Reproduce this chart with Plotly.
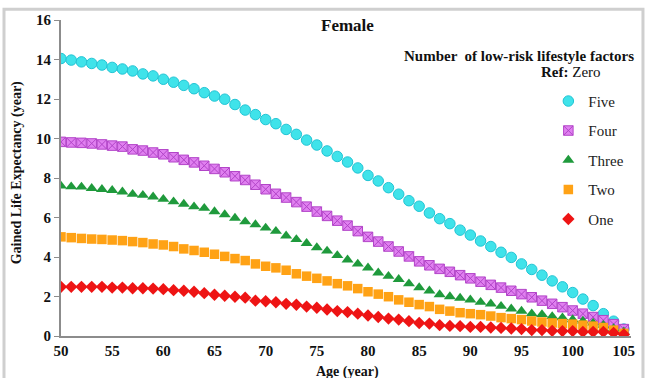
import plotly.graph_objects as go

ages = list(range(50, 106))

five = [14.05, 13.97, 13.88, 13.80, 13.72, 13.60, 13.52, 13.42, 13.27, 13.17,
        13.00, 12.85, 12.69, 12.52, 12.32, 12.15, 11.99, 11.72, 11.44, 11.21,
        10.96, 10.75, 10.46, 10.21, 9.92, 9.67, 9.37, 9.09, 8.81, 8.51,
        8.13, 7.85, 7.51, 7.18, 6.85, 6.57, 6.23, 5.94, 5.69, 5.36,
        5.11, 4.81, 4.53, 4.24, 3.98, 3.65, 3.37, 3.08, 2.79, 2.49,
        2.20, 1.87, 1.54, 1.13, 0.75, 0.35]
four = [9.83, 9.80, 9.78, 9.75, 9.70, 9.64, 9.59, 9.45, 9.39, 9.29,
        9.20, 9.05, 8.92, 8.79, 8.62, 8.46, 8.29, 8.09, 7.90, 7.66,
        7.43, 7.20, 7.01, 6.78, 6.55, 6.30, 6.08, 5.84, 5.59, 5.31,
        5.02, 4.78, 4.53, 4.28, 4.03, 3.78, 3.58, 3.40, 3.25, 3.08,
        2.92, 2.75, 2.59, 2.45, 2.29, 2.12, 1.96, 1.79, 1.63, 1.46,
        1.29, 1.13, 0.96, 0.80, 0.60, 0.35]
three = [7.60, 7.56, 7.55, 7.48, 7.43, 7.38, 7.30, 7.18, 7.13, 7.05,
         6.93, 6.80, 6.68, 6.55, 6.47, 6.30, 6.15, 5.97, 5.79, 5.64,
         5.47, 5.31, 5.07, 4.89, 4.69, 4.48, 4.31, 4.08, 3.86, 3.65,
         3.45, 3.20, 3.03, 2.87, 2.65, 2.45, 2.29, 2.10, 2.00, 1.92,
         1.83, 1.71, 1.63, 1.51, 1.38, 1.26, 1.13, 1.09, 0.99, 0.93,
         0.83, 0.76, 0.66, 0.55, 0.38, 0.21]
two = [5.02, 4.98, 4.94, 4.91, 4.89, 4.86, 4.83, 4.78, 4.73, 4.66,
       4.61, 4.53, 4.41, 4.33, 4.24, 4.14, 4.03, 3.92, 3.82, 3.65,
       3.53, 3.45, 3.33, 3.15, 3.03, 2.92, 2.79, 2.65, 2.54, 2.40,
       2.24, 2.12, 1.99, 1.83, 1.71, 1.59, 1.49, 1.35, 1.26, 1.18,
       1.13, 1.08, 1.01, 0.93, 0.88, 0.83, 0.76, 0.71, 0.66, 0.63,
       0.60, 0.55, 0.50, 0.43, 0.30, 0.13]
one = [2.49, 2.49, 2.49, 2.49, 2.49, 2.45, 2.45, 2.42, 2.42, 2.40,
       2.37, 2.32, 2.29, 2.24, 2.17, 2.09, 2.04, 1.99, 1.94, 1.79,
       1.76, 1.71, 1.63, 1.58, 1.49, 1.43, 1.34, 1.26, 1.21, 1.13,
       1.04, 0.96, 0.88, 0.83, 0.75, 0.66, 0.63, 0.55, 0.51, 0.50,
       0.46, 0.46, 0.43, 0.41, 0.38, 0.35, 0.30, 0.30, 0.26, 0.25,
       0.25, 0.21, 0.21, 0.21, 0.16, 0.08]

series_names = ["Five", "Four", "Three", "Two", "One"]
x_ticks = [50, 55, 60, 65, 70, 75, 80, 85, 90, 95, 100, 105]
y_ticks = [0, 2, 4, 6, 8, 10, 12, 14, 16]

SERIF = "Liberation Serif, Times New Roman, serif"

styles = {
    "Five": dict(symbol="circle", size=10.5, color="#3fe3ea", line=dict(color="#22c4d4", width=1)),
    "Four": dict(symbol="square-x", size=9.5, color="#e080f0", line=dict(color="#b244c8", width=1)),
    "Three": dict(symbol="triangle-up", size=10.5, color="#1f9a3c", line=dict(color="#1f9a3c", width=0)),
    "Two": dict(symbol="square", size=9.5, color="#ffa215", line=dict(color="#ffa215", width=0)),
    "One": dict(symbol="diamond", size=9.5, color="#ee1414", line=dict(color="#ee1414", width=0)),
}

fig = go.Figure()
for name, vals in zip(series_names, [five, four, three, two, one]):
    fig.add_trace(go.Scatter(
        x=ages, y=vals, mode="markers", name=name, legendgroup=name,
        marker=styles[name],
    ))

fig.update_layout(
    width=648, height=378,
    margin=dict(l=61, r=17, t=14, b=42),
    paper_bgcolor="white", plot_bgcolor="white",
    font=dict(family=SERIF, color="#111111"),
    showlegend=True,
    legend=dict(
        x=0.855, y=0.795, xanchor="left", yanchor="top",
        font=dict(family=SERIF, size=15, color="#222222"),
        tracegroupgap=7, itemwidth=30, bgcolor="rgba(0,0,0,0)",
    ),
    xaxis=dict(
        range=[50, 105.7], tickvals=x_ticks, ticktext=[str(v) for v in x_ticks],
        showgrid=False, zeroline=False, showline=True, linecolor="#8c8c8c", linewidth=2,
        ticks="", tickfont=dict(family=SERIF, size=15, color="#111111", weight="bold"),
    ),
    yaxis=dict(
        range=[0, 16], tickvals=y_ticks, ticktext=[str(v) for v in y_ticks],
        showgrid=False, zeroline=False, showline=True, linecolor="#8c8c8c", linewidth=2,
        ticks="outside", ticklen=5, tickcolor="#8c8c8c", tickwidth=1,
        tickfont=dict(family=SERIF, size=15, color="#111111", weight="bold"),
    ),
    annotations=[
        dict(text="<b>Female</b>", x=0.502, y=0.982, xref="paper", yref="paper",
             xanchor="center", yanchor="middle", showarrow=False,
             font=dict(family=SERIF, size=17, color="#111111")),
        dict(text="<b>Number  of low-risk lifestyle factors</b>", x=1.009, y=0.886,
             xref="paper", yref="paper", xanchor="right", yanchor="middle", showarrow=False,
             font=dict(family=SERIF, size=15, color="#111111")),
        dict(text="<b>Ref:</b> Zero", x=0.951, y=0.834, xref="paper", yref="paper",
             xanchor="right", yanchor="middle", showarrow=False,
             font=dict(family=SERIF, size=15, color="#111111")),
        dict(text="<b>Gained Life Expectancy (year)</b>", x=-0.077, y=0.515,
             xref="paper", yref="paper", xanchor="center", yanchor="middle",
             textangle=-90, showarrow=False,
             font=dict(family=SERIF, size=14, color="#111111")),
        dict(text="<b>Age (year)</b>", x=0.502, y=-0.115, xref="paper", yref="paper",
             xanchor="center", yanchor="middle", showarrow=False,
             font=dict(family=SERIF, size=14, color="#111111")),
    ],
    shapes=[
        dict(type="rect", xref="paper", yref="paper", x0=-0.1, x1=1.021, y0=-0.16, y1=1.034,
             line=dict(color="#cfcfcf", width=3)),
    ],
)

fig.write_html("out.html", config={"displayModeBar": False},
               post_script="document.body.style.margin='0';")
